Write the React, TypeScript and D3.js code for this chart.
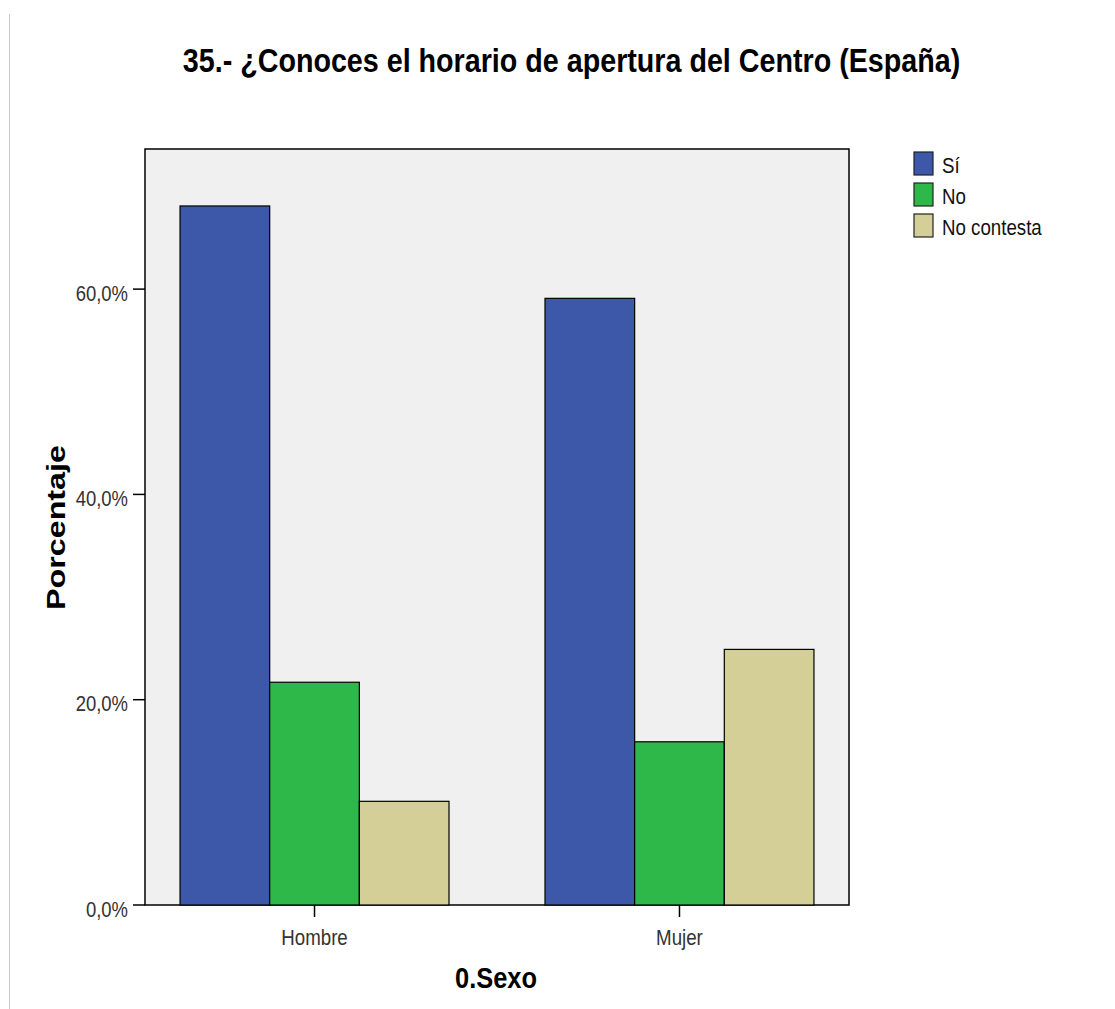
import React from "react";
import * as d3 from "d3";

const categories = ["Hombre", "Mujer"];
const seriesNames = ["Sí", "No", "No contesta"];
const siValues = [68.1, 59.1];
const noValues = [21.7, 15.9];
const noContestaValues = [10.1, 24.9];
const yTicks = [0, 20, 40, 60];
const colors = ["#3d58a8", "#2fb84a", "#d3cf96"];

const W = 1115, H = 1009;
const plot = { left: 145, right: 849, top: 149, bottom: 905 };
const sans = "'Liberation Sans', Arial, sans-serif";

export default function App() {
  const series = [siValues, noValues, noContestaValues];
  const x0 = d3.scaleBand().domain(categories).range([plot.left, plot.right]).paddingInner(0.263).paddingOuter(0.096);
  const x1 = d3.scaleBand().domain(seriesNames).range([0, x0.bandwidth()]);
  const y = d3.scaleLinear().domain([0, 73.65]).range([plot.bottom, plot.top]);
  const fmt = (v: number) => v.toFixed(1).replace(".", ",") + "%";

  return (
    <svg width={W} height={H} style={{ position: "absolute", left: 0, top: 0 }}>
      <rect x={0} y={0} width={W} height={H} fill="#fff" />
      <line x1={9.5} x2={9.5} y1={14} y2={H} stroke="#c8c8c8" strokeWidth={1} />
      <text transform="translate(571.5,72) scale(0.856,1)" textAnchor="middle" fontFamily={sans} fontWeight="bold" fontSize={33.5} fill="#000">
        35.- ¿Conoces el horario de apertura del Centro (España)
      </text>
      <rect x={plot.left} y={plot.top} width={plot.right - plot.left} height={plot.bottom - plot.top} fill="#f0f0f0" stroke="#000" strokeWidth={1.5} />
      {categories.map((c, i) =>
        series.map((vals, s) => (
          <rect
            key={c + s}
            x={(x0(c) as number) + (x1(seriesNames[s]) as number)}
            y={y(vals[i])}
            width={x1.bandwidth()}
            height={y(0) - y(vals[i])}
            fill={colors[s]}
            stroke="#000"
            strokeWidth={1.2}
          />
        ))
      )}
      {yTicks.map((t) => (
        <g key={t}>
          <line x1={plot.left - 12} x2={plot.left} y1={y(t)} y2={y(t)} stroke="#000" strokeWidth={1.5} />
          <text transform={`translate(${plot.left - 17},${y(t) + 11.5}) scale(0.84,1)`} textAnchor="end" fontFamily={sans} fontSize={22} fill="#333">
            {fmt(t)}
          </text>
        </g>
      ))}
      {categories.map((c) => {
        const cx = (x0(c) as number) + x0.bandwidth() / 2;
        return (
          <g key={c}>
            <line x1={cx} x2={cx} y1={plot.bottom} y2={plot.bottom + 12} stroke="#000" strokeWidth={1.5} />
            <text transform={`translate(${cx},${plot.bottom + 40}) scale(0.85,1)`} textAnchor="middle" fontFamily={sans} fontSize={22} fill="#333">
              {c}
            </text>
          </g>
        );
      })}
      <text transform="translate(496,988) scale(0.877,1)" textAnchor="middle" fontFamily={sans} fontWeight="bold" fontSize={29} fill="#000">
        0.Sexo
      </text>
      <text
        transform="translate(65,527.5) rotate(-90) scale(1.29,1)"
        textAnchor="middle"
        fontFamily={sans}
        fontWeight="bold"
        fontSize={25}
        fill="#000"
      >
        Porcentaje
      </text>
      {seriesNames.map((n, i) => (
        <g key={n}>
          <rect x={914} y={152 + i * 31} width={19} height={23} fill={colors[i]} stroke="#222" strokeWidth={1.2} />
          <text transform={`translate(942,${173 + i * 31}) scale(0.85,1)`} fontFamily={sans} fontSize={22} fill="#111">
            {n}
          </text>
        </g>
      ))}
    </svg>
  );
}
